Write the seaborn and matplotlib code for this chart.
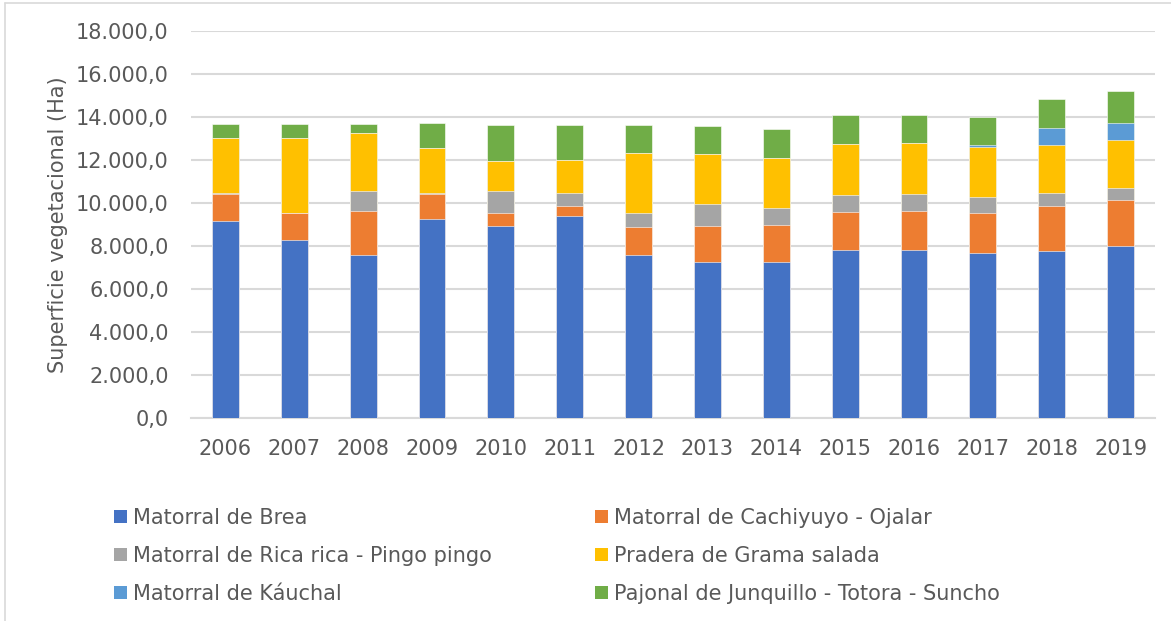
import numpy as np
import pandas as pd
import matplotlib
matplotlib.use("Agg")
import matplotlib.pyplot as plt
import matplotlib.ticker as mticker
from matplotlib.patches import Patch
import seaborn as sns

years = ["2006", "2007", "2008", "2009", "2010", "2011", "2012",
         "2013", "2014", "2015", "2016", "2017", "2018", "2019"]
series_names = [
    "Matorral de Brea",
    "Matorral de Cachiyuyo - Ojalar",
    "Matorral de Rica rica - Pingo pingo",
    "Pradera de Grama salada",
    "Matorral de Káuchal",
    "Pajonal de Junquillo - Totora - Suncho",
]
brea = [9160, 8310, 7580, 9280, 8960, 9400, 7580, 7250, 7280, 7830, 7830, 7700, 7800, 8000]
cachiyuyo = [1270, 1230, 2070, 1160, 600, 480, 1320, 1700, 1720, 1750, 1810, 1830, 2090, 2150]
rica = [30, 0, 900, 30, 1000, 600, 660, 1020, 790, 800, 780, 760, 580, 560]
grama = [2570, 3500, 2700, 2080, 1410, 1550, 2760, 2340, 2340, 2360, 2370, 2330, 2250, 2220]
kauchal = [0, 0, 0, 0, 0, 0, 0, 0, 0, 0, 0, 80, 800, 820]
junquillo = [670, 650, 430, 1200, 1690, 1630, 1320, 1270, 1320, 1350, 1300, 1300, 1310, 1460]
colors = ["#4472C4", "#ED7D31", "#A5A5A5", "#FFC000", "#5B9BD5", "#70AD47"]

series = [brea, cachiyuyo, rica, grama, kauchal, junquillo]
df = pd.DataFrame({name: vals for name, vals in zip(series_names, series)})
df["Año"] = years
cum = df[series_names].cumsum(axis=1)

FONT = "DejaVu Sans"
TXT = "#595959"
FS = 15
sns.set_theme(style="white")
plt.rcParams["font.family"] = [FONT]

W, H = 1171, 621
fig = plt.figure(figsize=(W / 100, H / 100), dpi=100)
ax = fig.add_axes([191 / W, 1 - 418.3 / H, (1155 - 191) / W, (418.3 - 31.3) / H])

for i in reversed(range(len(series_names))):
    sns.barplot(x=df["Año"], y=cum[series_names[i]], color=colors[i],
                width=0.39, ax=ax, saturation=1, edgecolor="white",
                linewidth=0.4, zorder=3)

ax.set_ylim(0, 18000)
ax.set_yticks(np.arange(0, 18001, 2000))
ax.yaxis.set_major_formatter(mticker.FuncFormatter(
    lambda v, p: "{:,.1f}".format(v).replace(",", "X").replace(".", ",").replace("X", ".")))
ax.grid(axis="y", color="#D9D9D9", linewidth=1.5, zorder=0)
ax.grid(axis="x", visible=False)
for s in ["top", "right", "left"]:
    ax.spines[s].set_visible(False)
ax.spines["bottom"].set_color("#D9D9D9")
ax.spines["bottom"].set_linewidth(1.5)
ax.tick_params(axis="both", length=0, labelsize=FS, colors=TXT)
ax.tick_params(axis="y", pad=16)
ax.tick_params(axis="x", pad=15)
ax.set_xlabel("")
ax.set_ylabel("Superficie vegetacional (Ha)", fontsize=FS, color=TXT, labelpad=6)

def make_legend(idx, x_px):
    handles = [Patch(facecolor=colors[i], edgecolor="none") for i in idx]
    labels = [series_names[i] for i in idx]
    leg = fig.legend(handles, labels, loc="upper left",
                     bbox_to_anchor=(x_px / W, 1 - 508 / H), frameon=False,
                     fontsize=FS, handlelength=0.62, handleheight=0.62,
                     handletextpad=0.3, labelspacing=0.86, borderpad=0,
                     borderaxespad=0, labelcolor=TXT)
    return leg

make_legend([0, 2, 4], 114)
make_legend([1, 3, 5], 595)

# chart border
fig.add_artist(plt.Line2D([5 / W, 5 / W], [0, 1 - 3 / H], color="#D9D9D9", lw=1.2,
                          transform=fig.transFigure))
fig.add_artist(plt.Line2D([5 / W, 1], [1 - 3 / H, 1 - 3 / H], color="#D9D9D9", lw=1.2,
                          transform=fig.transFigure))

fig.savefig("out.png", dpi=100)
